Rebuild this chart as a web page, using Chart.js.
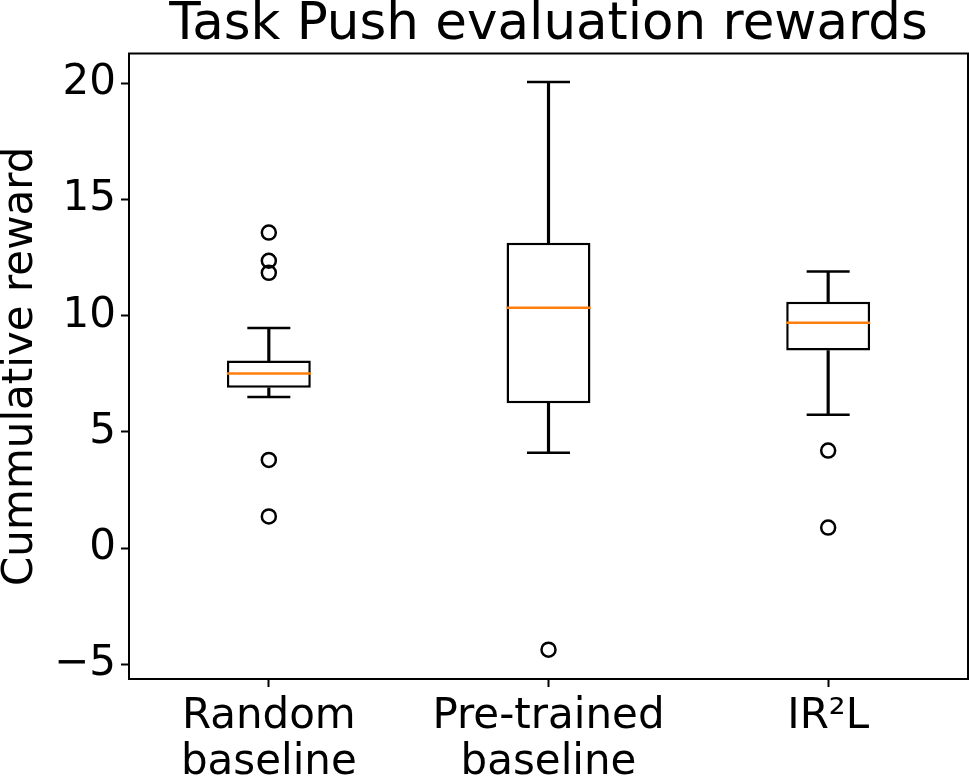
<!DOCTYPE html>
<html>
<head>
<meta charset="utf-8">
<script src="https://cdn.jsdelivr.net/npm/chart.js@4.4.1/dist/chart.umd.min.js"></script>
<style>
  html, body { margin: 0; padding: 0; background: #ffffff; }
  #wrap { width: 969px; height: 784px; }
</style>
</head>
<body>
<div id="wrap"><canvas id="c" width="969" height="784"></canvas></div>
<script>
// ---- data ----
const categories = ['Random baseline', 'Pre-trained baseline', 'IR²L'];
const tickLines = [['Random', 'baseline'], ['Pre-trained', 'baseline'], ['IR²L']];
const whiskerLow = [6.50, 4.11, 5.74];
const q1 = [6.90, 6.23, 8.50];
const median = [7.51, 10.34, 9.70];
const q3 = [8.07, 13.13, 10.60];
const whiskerHigh = [9.47, 20.04, 11.90];
const outliersRandom = [13.57, 12.36, 11.84, 3.80, 1.37];
const outliersPretrained = [-4.36];
const outliersIR2L = [4.20, 0.89];
const yTicks = [-5, 0, 5, 10, 15, 20];
const yMin = -5.62;
const yMax = 21.27;

const outlierGroups = [outliersRandom, outliersPretrained, outliersIR2L];
const outlierPoints = [];
outlierGroups.forEach((g, i) => g.forEach(v => outlierPoints.push({ x: categories[i], y: v })));
const capPoints = [];
categories.forEach((c, i) => { capPoints.push({ x: c, y: whiskerLow[i] }); capPoints.push({ x: c, y: whiskerHigh[i] }); });
const medianPoints = categories.map((c, i) => ({ x: c, y: median[i] }));

const FONT = 'DejaVu Sans';
const BLACK = '#000000';
const LW = 2.5;
const AXW = 2;

const framePlugin = {
  id: 'frame',
  afterDatasetsDraw(chart) {
    const a = chart.chartArea, ctx = chart.ctx;
    ctx.save();
    ctx.strokeStyle = BLACK;
    ctx.lineWidth = AXW;
    ctx.strokeRect(a.left, a.top, a.right - a.left, a.bottom - a.top);
    ctx.restore();
  }
};

new Chart(document.getElementById('c'), {
  type: 'bar',
  data: {
    labels: categories,
    datasets: [
      {
        label: 'outliers', type: 'line', showLine: false, data: outlierPoints, order: 0,
        pointStyle: 'circle', pointRadius: 7, pointBorderWidth: LW,
        pointBackgroundColor: 'rgba(0,0,0,0)', pointBorderColor: BLACK
      },
      {
        label: 'median', type: 'line', showLine: false, data: medianPoints, order: 1,
        pointStyle: 'line', pointRadius: 42, pointBorderWidth: LW, pointBorderColor: '#ff7f0e'
      },
      {
        label: 'caps', type: 'line', showLine: false, data: capPoints, order: 2,
        pointStyle: 'line', pointRadius: 21.5, pointBorderWidth: LW, pointBorderColor: BLACK
      },
      {
        label: 'box', data: categories.map((c, i) => [q1[i], q3[i]]), order: 3, grouped: false,
        backgroundColor: '#ffffff', borderColor: BLACK, borderWidth: LW, borderSkipped: false,
        barPercentage: 0.3, categoryPercentage: 1
      },
      {
        label: 'whiskerLow', data: categories.map((c, i) => [whiskerLow[i], q1[i]]), order: 4, grouped: false,
        backgroundColor: BLACK, barThickness: LW
      },
      {
        label: 'whiskerHigh', data: categories.map((c, i) => [q3[i], whiskerHigh[i]]), order: 5, grouped: false,
        backgroundColor: BLACK, barThickness: LW
      }
    ]
  },
  options: {
    responsive: false,
    animation: false,
    events: [],
    devicePixelRatio: 1,
    layout: { autoPadding: false, padding: { top: 0, right: 1, bottom: 0, left: 0 } },
    plugins: {
      legend: { display: false },
      tooltip: { enabled: false },
      title: {
        display: true,
        fullSize: false,
        text: 'Task Push evaluation rewards',
        color: BLACK,
        font: { family: FONT, size: 51.5, weight: 'normal', lineHeight: 1.0 },
        padding: { top: 0, bottom: 2 }
      }
    },
    scales: {
      x: {
        type: 'category',
        offset: true,
        grid: { offset: false, drawOnChartArea: false, drawTicks: true, tickLength: 8, tickColor: BLACK, tickWidth: AXW },
        border: { display: true, color: BLACK, width: AXW },
        ticks: {
          color: BLACK,
          font: { family: FONT, size: 42, lineHeight: 1.1 },
          padding: 7,
          maxRotation: 0, autoSkip: false,
          callback: (v, i) => tickLines[i]
        },
        afterFit: (s) => { s.height = 105; s.paddingLeft = 0; s.paddingRight = 0; }
      },
      y: {
        type: 'linear',
        min: yMin, max: yMax,
        afterBuildTicks: (s) => { s.ticks = yTicks.map(v => ({ value: v })); },
        grid: { drawOnChartArea: false, drawTicks: true, tickLength: 8, tickColor: BLACK, tickWidth: AXW },
        border: { display: true, color: BLACK, width: AXW },
        ticks: {
          color: BLACK,
          font: { family: FONT, size: 42 },
          padding: 5,
          callback: (v) => String(v).replace('-', '\u2212')
        },
        title: {
          display: true,
          text: 'Cummulative reward',
          color: BLACK,
          font: { family: FONT, size: 42, lineHeight: 1.0 },
          padding: { top: 0, bottom: 0 }
        },
        afterFit: (s) => { s.width = 129; }
      }
    }
  },
  plugins: [framePlugin]
});
</script>
</body>
</html>
